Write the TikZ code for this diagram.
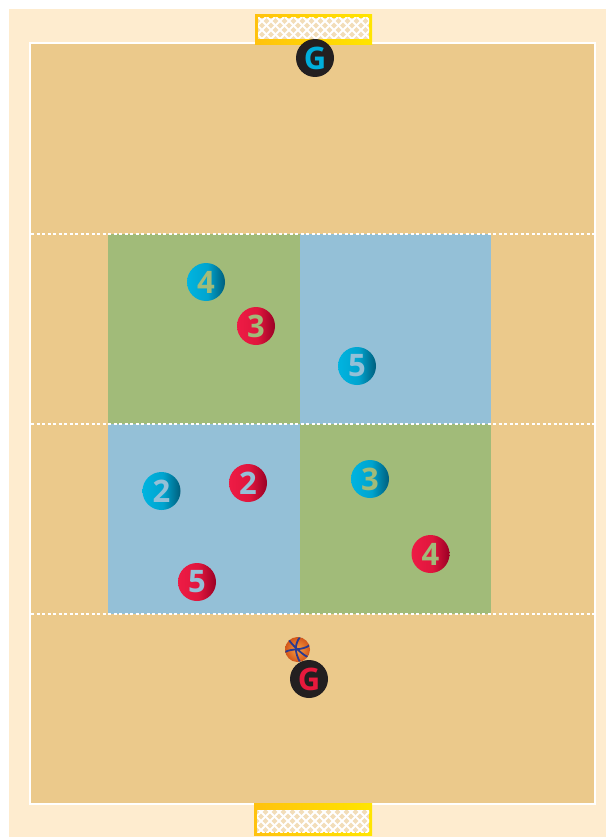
\documentclass[tikz,border=0pt]{standalone}
\usepackage{fontspec}
\newfontfamily\tokfont{Open Sans}
\definecolor{cream}{HTML}{FEECCF}
\definecolor{court}{HTML}{EBC98B}
\definecolor{zgreen}{HTML}{A1BB79}
\definecolor{zblue}{HTML}{94C0D7}
\definecolor{netbg}{HTML}{F2DDB8}
\definecolor{goalA}{HTML}{FFC20E}
\definecolor{goalB}{HTML}{FFE500}
\definecolor{tokblueA}{HTML}{00B4E0}
\definecolor{tokblueM}{HTML}{00A4CF}
\definecolor{tokblueB}{HTML}{005E7C}
\definecolor{tokredA}{HTML}{EE1B45}
\definecolor{tokredM}{HTML}{E0163D}
\definecolor{tokredB}{HTML}{9A0025}
\definecolor{gblack}{HTML}{231F20}
\definecolor{gcyan}{HTML}{00AEDC}
\definecolor{gred}{HTML}{E8193C}
\definecolor{seam}{HTML}{2B3A8F}
\definecolor{ballA}{HTML}{F9A042}
\definecolor{ballB}{HTML}{D2561A}
\pgfdeclarehorizontalshading{bluetok}{100bp}{color(0bp)=(tokblueA); color(25bp)=(tokblueA); color(52bp)=(tokblueM); color(75bp)=(tokblueB); color(100bp)=(tokblueB)}
\pgfdeclarehorizontalshading{redtok}{100bp}{color(0bp)=(tokredA); color(25bp)=(tokredA); color(52bp)=(tokredM); color(75bp)=(tokredB); color(100bp)=(tokredB)}
\tikzset{
  token/.style={circle, minimum size=38pt, inner sep=0pt, font=\tokfont\bfseries\fontsize{31}{31}\selectfont},
  bluetoken/.style={token, shade, shading=bluetok},
  redtoken/.style={token, shade, shading=redtok},
  keeper/.style={token, fill=gblack},
  zoneline/.style={white, line width=1.5pt, dash pattern=on 3pt off 2.5pt},
  netline/.style={white, line width=2pt},
  seamline/.style={seam, line width=1.8pt, line cap=round}
}
\begin{document}
\begin{tikzpicture}[x=1pt,y=-1pt]
\useasboundingbox (0,0) rectangle (606,837);
\fill[white] (0,0) rectangle (606,837);
\fill[cream] (9,9) rectangle (606,837);
% court
\fill[court] (30,43) rectangle (595,804);
\draw[white, line width=2pt] (30,43) rectangle (595,804);
% zones
\fill[zgreen] (108,234) rectangle (300,424);
\fill[zblue] (300,234) rectangle (491,424);
\fill[zblue] (108,424) rectangle (300,614);
\fill[zgreen] (300,424) rectangle (491,614);
\draw[zoneline] (31,234) -- (594,234);
\draw[zoneline] (31,424) -- (594,424);
\draw[zoneline] (31,614) -- (594,614);
% top goal
\fill[left color=goalA, right color=goalB] (255,15) rectangle (372,45);
\fill[netbg] (258,18) rectangle (369,39);
\begin{scope}
\clip (258,18) rectangle (369,39);
\foreach \i in {222,231,...,372} {
  \draw[netline] (\i,17) -- ++(26,26);
  \draw[netline] (\i,43) -- ++(26,-26);
}
\end{scope}
% bottom goal
\fill[left color=goalA, right color=goalB] (254,803) rectangle (372,835);
\fill[netbg] (257,810) rectangle (369,832);
\begin{scope}
\clip (257,810) rectangle (369,832);
\foreach \i in {221,230,...,372} {
  \draw[netline] (\i,808) -- ++(26,26);
  \draw[netline] (\i,834) -- ++(26,-26);
}
\end{scope}
% keepers
\node[keeper, text=gcyan] (gtop) at (315,58) {G};
\node[keeper, text=gred] (gbot) at (309,679) {G};
% ball
\shade[inner color=ballA, outer color=ballB] (297.5,649.5) circle (12.5pt);
\begin{scope}
\clip (297.5,649.5) circle (12.5pt);
\draw[seamline] (300,637) .. controls (294,645) and (295,653) .. (300,662);
\draw[seamline] (285,652) .. controls (292,648) and (302,651) .. (310,645);
\draw[seamline] (289,640) .. controls (292,645) and (304,656) .. (308,657);
\end{scope}
% players
\node[bluetoken, text=zgreen] (b4) at (206,282) {4};
\node[redtoken, text=zgreen] (r3) at (256,326) {3};
\node[bluetoken, text=zblue] (b5) at (357,366) {5};
\node[bluetoken, text=zblue] (b2) at (161.5,491) {2};
\node[redtoken, text=zblue] (r2) at (248,483) {2};
\node[redtoken, text=zblue] (r5) at (197,582) {5};
\node[bluetoken, text=zgreen] (b3) at (370,479) {3};
\node[redtoken, text=zgreen] (r4) at (430.5,554) {4};
\end{tikzpicture}
\end{document}
